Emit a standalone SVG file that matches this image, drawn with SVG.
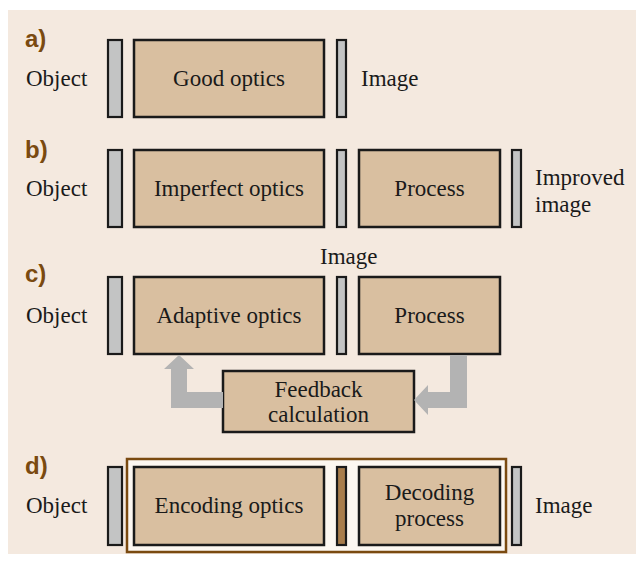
<svg xmlns="http://www.w3.org/2000/svg" width="636" height="562" viewBox="0 0 636 562">
<style>
.box{fill:#d9bfa0;stroke:#1a1a1a;stroke-width:2.5}
.bar{fill:#c3c4c4;stroke:#1a1a1a;stroke-width:2.2}
.bbar{fill:#a87d4c;stroke:#1a1a1a;stroke-width:2.2}
.arr{fill:#b3b3b3}
.t{font-family:'Liberation Serif','Times New Roman',serif;font-size:23px;fill:#1a1a1a}
.c{text-anchor:middle}
.lab{font-family:'Liberation Sans',Arial,sans-serif;font-weight:bold;font-size:24px;fill:#7a4a10}
</style>
<rect x="0" y="0" width="636" height="562" fill="#ffffff"/>
<rect x="8" y="10" width="628" height="544" fill="#f4e9df"/>

<g id="labels">
<text class="lab" x="25" y="47">a)</text>
<text class="lab" x="25" y="158">b)</text>
<text class="lab" x="25" y="282">c)</text>
<text class="lab" x="25" y="474">d)</text>
</g>

<g id="row-a">
<text class="t" x="26" y="86">Object</text>
<rect class="bar" x="108" y="40" width="14" height="77"/>
<g id="good-optics"><rect class="box" x="134" y="40" width="190" height="77"/><text class="t c" x="229" y="86">Good optics</text></g>
<rect class="bar" x="337" y="40" width="9" height="77"/>
<text class="t" x="361" y="86">Image</text>
</g>

<g id="row-b">
<text class="t" x="26" y="196">Object</text>
<rect class="bar" x="108" y="150" width="14" height="77"/>
<g id="imperfect-optics"><rect class="box" x="134" y="150" width="190" height="77"/><text class="t c" x="229" y="196">Imperfect optics</text></g>
<rect class="bar" x="337" y="150" width="9" height="77"/>
<g id="process-b"><rect class="box" x="359" y="150" width="141" height="77"/><text class="t c" x="429.5" y="196">Process</text></g>
<rect class="bar" x="512" y="150" width="9" height="77"/>
<text class="t" x="535" y="185">Improved</text>
<text class="t" x="535" y="212">image</text>
</g>

<g id="row-c">
<text class="t" x="26" y="323">Object</text>
<rect class="bar" x="108" y="277" width="14" height="77"/>
<g id="adaptive-optics"><rect class="box" x="134" y="277" width="190" height="77"/><text class="t c" x="229" y="323">Adaptive optics</text></g>
<rect class="bar" x="337" y="277" width="9" height="77"/>
<text class="t" x="320" y="264">Image</text>
<g id="process-c"><rect class="box" x="359" y="277" width="141" height="77"/><text class="t c" x="429.5" y="323">Process</text></g>
<g id="feedback"><rect class="box" x="223" y="371" width="191" height="61"/><text class="t c" x="318.5" y="397">Feedback</text><text class="t c" x="318.5" y="422">calculation</text></g>
</g>

<g id="connectors">
<polygon class="arr" points="223,392 223,408 171,408 171,369 164,369 179,355 194,369 187,369 187,392"/>
<polygon class="arr" points="450,355 467,355 467,408 428,408 428,415 414,400 428,385 428,392 450,392"/>
</g>

<g id="row-d">
<text class="t" x="26" y="513">Object</text>
<rect class="bar" x="108" y="467" width="14" height="78"/>
<rect x="127" y="459" width="379" height="93" fill="#fcf7f1" stroke="#7a4a10" stroke-width="2.5"/>
<g id="encoding-optics"><rect class="box" x="134" y="467" width="190" height="78"/><text class="t c" x="229" y="513">Encoding optics</text></g>
<rect class="bbar" x="337" y="467" width="9" height="78"/>
<g id="decoding-process"><rect class="box" x="359" y="467" width="141" height="78"/><text class="t c" x="429.5" y="500">Decoding</text><text class="t c" x="429.5" y="526">process</text></g>
<rect class="bar" x="512" y="467" width="9" height="78"/>
<text class="t" x="535" y="513">Image</text>
</g>
</svg>
